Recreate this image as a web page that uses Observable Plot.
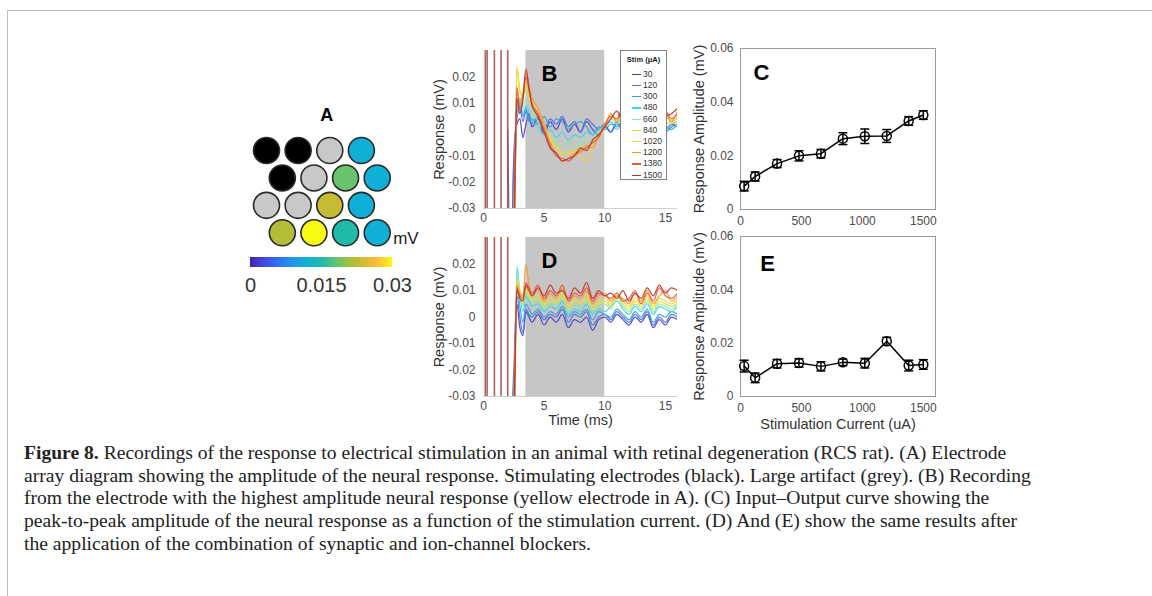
<!DOCTYPE html>
<html><head><meta charset="utf-8">
<script src="https://cdn.jsdelivr.net/npm/d3@7"></script>
<script src="https://cdn.jsdelivr.net/npm/@observablehq/plot@0.6"></script>
<style>
body{margin:0;background:#fff;}
#fig{position:relative;width:1152px;height:596px;overflow:hidden;font-family:"Liberation Sans",Arial,sans-serif;background:#fff;}
#border{position:absolute;left:7px;top:10px;right:-4px;bottom:-4px;border-top:1.5px solid #bdbdbd;border-left:1.5px solid #bdbdbd;}
.pos{position:absolute;}
#cbarwrap line{display:none;}
g[aria-label="y-axis label"] text, g[aria-label="x-axis label"] text{font-size:14.5px;fill:#333;}
#stimlegend{position:absolute;left:620px;top:50px;width:47px;height:130px;border:1px solid #808080;background:#fff;box-sizing:border-box;}
#stimlegend .ttl{position:absolute;left:0;width:100%;top:4px;text-align:center;font-weight:bold;font-size:7.5px;color:#222;}
#stimlegend .row{position:absolute;left:0;width:100%;height:10px;font-size:8.5px;color:#333;line-height:10px;}
#stimlegend .sw{position:absolute;left:11px;top:5px;width:9px;height:1.3px;}
#stimlegend .lb{position:absolute;left:22px;top:0;}
#caption{position:absolute;left:24px;top:442px;font-family:"Liberation Serif",serif;font-size:19.6px;line-height:22.7px;color:#222;white-space:nowrap;}
</style></head>
<body><div id="fig"><div id="border"></div></div>
<script>
// ---------- Panel A: electrode array ----------
const elecRow   = [1,1,1,1, 2,2,2,2, 3,3,3,3, 4,4,4,4];
const elecCol   = [0,1,2,3, 0.5,1.5,2.5,3.5, 0,1,2,3, 0.5,1.5,2.5,3.5];
const elecState = ["stim","stim","artifact","resp", "stim","artifact","resp","resp",
                   "artifact","artifact","resp","resp", "resp","resp","resp","resp"];
const elecAmp   = [null,null,null,0.012, null,null,0.0186,0.012, null,null,0.023,0.012, 0.022,0.030,0.015,0.012];
const colorbarTicks = [0, 0.015, 0.03];
const parula = ["#3e26a8","#4749e6","#2e72f5","#2296e6","#10b0d6","#1fbaa8","#5ac47a","#a3bf3a","#d7ba30","#fcbf3a","#f9fb14"];

// ---------- Panels B & D: traces ----------
const stimLevels = [30,120,300,480,660,840,1020,1200,1380,1500];
const stimColors = ["#4a3cc8","#4a6ee0","#35a0dc","#3fd4ea","#8ee6a8","#cfe445","#f7d23a","#f59a2a","#e8573a","#c0302c"];
const stimPulseTimes = [0.15, 0.3, 0.9, 1.45, 2.0];
const analysisWindow = [{start:3.5, end:10}];
const timeMs = [2.0,2.25,2.5,2.75,3.0,3.25,3.5,3.75,4.0,4.5,5.0,5.5,6.0,6.5,7.0,7.5,8.0,8.5,9.0,9.5,10.0,10.5,11.0,11.5,12.0,12.5,13.0,13.5,14.0,14.5,15.0,15.5,16.0];
// responses in microvolts
const traceB = {
  30:   [0,-60,-12,2,4,-3,2,6,1,4,-2,3,0,4,-1,2,-1,3,0,-2,1,-1,3,0,2,-1,1,3,-1,2,0,2,1],
  120:  [-60,-60,-10,4,8,3,7,4,2,5,0,4,2,5,1,3,-1,4,2,0,2,-1,2,0,3,1,-1,2,0,3,-1,1,2],
  300:  [-60,-60,-40,6,10,5,8,3,4,2,5,1,4,3,0,2,3,1,-2,1,0,2,1,3,0,2,4,1,-1,3,1,0,2],
  480:  [-60,-60,-45,8,12,6,9,7,3,1,-2,0,-3,-1,-4,-2,-3,-1,-2,0,1,3,0,2,1,4,2,0,3,1,-1,2,3],
  660:  [-60,-60,-50,14,10,8,12,10,7,3,0,-3,-5,-6,-5,-7,-4,-5,-3,-1,1,4,2,5,1,3,5,2,0,4,2,3,1],
  840:  [-60,-60,-55,23,15,12,16,12,10,6,1,-4,-7,-9,-8,-9,-6,-8,-5,-2,2,5,3,6,2,4,1,5,3,2,5,3,4],
  1020: [-60,-60,-55,24,14,13,18,14,11,7,2,-3,-6,-10,-9,-8,-10,-12,-7,-3,1,6,4,7,3,5,2,6,4,3,6,2,5],
  1200: [-60,-60,-30,15,10,14,22,16,12,8,2,-5,-9,-12,-11,-9,-9,-6,-7,-2,1,6,3,8,2,6,4,3,7,4,6,3,7],
  1380: [-60,-60,-40,16,8,12,20,15,10,6,0,-6,-10,-11,-12,-10,-8,-7,-5,-3,2,5,4,9,3,5,2,6,5,3,7,4,6],
  1500: [-60,-60,-45,12,6,11,23,16,9,5,-1,-7,-9,-12,-11,-10,-7,-8,-4,-2,1,4,7,3,6,2,5,4,8,3,5,6,8]
};
const traceD = {
  30:   [-60,-60,-30,5,-4,-7,2,0,-2,1,-3,0,-2,1,-4,-1,-2,0,-5,-1,0,-2,1,-1,-3,0,-2,1,-4,-1,-3,0,-1],
  120:  [-60,-45,-20,8,0,-6,3,1,0,2,-1,1,0,3,-2,1,0,2,-3,0,1,-1,2,0,-2,1,-1,2,-3,0,-2,1,0],
  300:  [-60,-60,-35,12,4,-2,5,3,1,3,0,2,1,4,0,2,1,3,-1,2,1,0,3,1,-1,2,0,3,-2,1,0,2,1],
  480:  [-60,-60,-50,19,8,2,8,6,4,5,2,4,3,6,1,3,2,5,1,3,2,4,6,3,1,4,2,5,1,4,3,2,4],
  660:  [-60,-60,-50,16,10,4,9,7,5,6,3,5,4,7,2,5,3,6,2,4,5,3,7,4,2,5,3,6,2,5,4,3,5],
  840:  [-60,-60,-55,14,9,5,10,8,6,7,4,6,5,8,3,6,5,7,3,5,6,4,8,5,3,6,4,7,3,6,5,4,6],
  1020: [-60,-60,-55,13,10,6,11,9,7,8,5,7,6,9,4,7,5,8,4,6,7,5,9,6,4,7,5,8,4,7,6,5,7],
  1200: [-60,-60,-35,12,9,8,20,12,8,10,6,9,7,11,6,8,7,10,5,8,9,6,8,7,5,9,6,10,5,8,10,6,8],
  1380: [-60,-60,-40,11,8,7,13,11,9,12,7,10,8,12,6,9,8,11,6,9,8,7,9,6,7,10,5,9,6,11,8,7,9],
  1500: [-60,-60,-45,10,7,6,12,10,8,11,8,12,9,10,7,11,9,13,7,10,8,9,7,10,6,9,7,11,8,12,9,11,10]
};

// ---------- Panels C & E: input-output ----------
const currentUA = [30,120,300,480,660,840,1020,1200,1380,1500];
const ampC = [0.0087,0.0123,0.0171,0.0200,0.0208,0.0264,0.0273,0.0274,0.0330,0.0352];
const errC = [0.0018,0.0017,0.0015,0.0019,0.0016,0.0022,0.0027,0.0024,0.0016,0.0016];
const ampE = [0.0114,0.0070,0.0123,0.0126,0.0113,0.0128,0.0125,0.0207,0.0116,0.0120];
const errE = [0.0022,0.0018,0.0016,0.0016,0.0017,0.0012,0.0018,0.0015,0.0020,0.0018];

const captionLines = [
  ["Figure 8.", " Recordings of the response to electrical stimulation in an animal with retinal degeneration (RCS rat). (A) Electrode"],
  ["", "array diagram showing the amplitude of the neural response. Stimulating electrodes (black). Large artifact (grey). (B) Recording"],
  ["", "from the electrode with the highest amplitude neural response (yellow electrode in A). (C) Input\u2013Output curve showing the"],
  ["", "peak-to-peak amplitude of the neural response as a function of the stimulation current. (D) And (E) show the same results after"],
  ["", "the application of the combination of synaptic and ion-channel blockers."]
];

// ================= build =================
const fig = document.getElementById("fig");
function place(node, left, top, id) {
  const wrap = document.createElement("div");
  wrap.className = "pos";
  if (id) wrap.id = id;
  wrap.style.left = left + "px";
  wrap.style.top = top + "px";
  wrap.appendChild(node);
  fig.appendChild(wrap);
  return wrap;
}
const fmt = d => String(+d.toFixed(2));
const parulaInterp = d3.piecewise(d3.interpolateRgb, parula);
const baseStyle = {fontFamily: "'Liberation Sans', Arial, sans-serif", fontSize: "12px", color: "#4d4d4d", background: "transparent", overflow: "visible"};
const letterOpts = {fontSize: 22, fontWeight: "bold", fill: "#000", textAnchor: "middle", lineAnchor: "middle"};

// Panel A
const electrodes = elecRow.map((r, i) => ({row: r, col: elecCol[i], state: elecState[i], amp: elecAmp[i]}));
const plotA = Plot.plot({
  width: 220, height: 170, marginLeft: 66, marginRight: 43.3, marginTop: 50, marginBottom: 37.7,
  style: baseStyle,
  x: {domain: [0, 3.5], axis: null},
  y: {domain: [1, 4], axis: null, reverse: true},
  color: {type: "linear", domain: [0, 0.03], interpolate: parulaInterp},
  marks: [
    Plot.dot(electrodes.filter(d => d.state === "resp"), {x: "col", y: "row", r: 13, fill: "amp", stroke: "#2a2a2a", strokeWidth: 1.6}),
    Plot.dot(electrodes.filter(d => d.state === "stim"), {x: "col", y: "row", r: 13, fill: "#000", stroke: "#2a2a2a", strokeWidth: 1.6}),
    Plot.dot(electrodes.filter(d => d.state === "artifact"), {x: "col", y: "row", r: 13, fill: "#c8c8c8", stroke: "#2a2a2a", strokeWidth: 1.6}),
    Plot.text(["A"], {text: d => d, frameAnchor: "top", dx: 5, dy: -35, ...letterOpts, fontSize: 18}),
    Plot.text(["mV"], {text: d => d, frameAnchor: "bottom-right", dx: 16, dy: 6, textAnchor: "start", lineAnchor: "middle", fontSize: 17, fill: "#222"})
  ]
});
place(plotA, 200, 100);

const cbar = Plot.legend({
  color: {type: "linear", domain: [0, 0.03], interpolate: parulaInterp},
  width: 182, height: 40, marginLeft: 20, marginRight: 20, marginTop: 0, marginBottom: 30,
  ticks: colorbarTicks, tickSize: 8, tickFormat: d => d === 0 ? "0" : String(d),
  style: {fontSize: "20px", fontFamily: "'Liberation Sans', Arial, sans-serif", color: "#333", overflow: "visible"}
});
place(cbar, 230, 257, "cbarwrap");

// Panels B & D
function traceRows(obj) {
  const rows = [];
  for (const s of stimLevels) obj[s].forEach((v, i) => rows.push({stim: s, t: timeMs[i], uv: v}));
  return rows;
}
function tracePlot(obj, letter, opts) {
  return Plot.plot({
    width: 260, height: opts.height, marginLeft: 63, marginRight: 3, marginTop: 10, marginBottom: opts.marginBottom,
    style: baseStyle,
    x: {domain: [0, 16], ticks: [0, 5, 10, 15], tickSize: 0, tickPadding: 5, tickFormat: d => String(d),
        label: opts.xlabel, labelAnchor: "center", labelOffset: 28, labelArrow: "none"},
    y: {domain: [-0.03, 0.03], ticks: [-0.03, -0.02, -0.01, 0, 0.01, 0.02], tickSize: 0, tickPadding: 8,
        tickFormat: fmt, label: "Response (mV)", labelAnchor: "center", labelOffset: 50, labelArrow: "none"},
    color: {type: "ordinal", domain: stimLevels, range: stimColors},
    marks: [
      Plot.ruleY([-0.03], {stroke: "#d0d0d0"}),
      Plot.rect(analysisWindow, {x1: "start", x2: "end", fill: "#c6c6c6"}),
      Plot.line(traceRows(obj), {x: "t", y: d => d.uv / 1000, z: "stim", stroke: "stim", curve: "monotone-x",
        clip: true, strokeWidth: 1.25, strokeOpacity: 0.9}),
      Plot.ruleX(stimPulseTimes, {stroke: "#a5524e", strokeWidth: 1.6, strokeOpacity: 0.9}),
      Plot.text([letter], {text: d => d, frameAnchor: "top-left", dx: 66, dy: 23, ...letterOpts})
    ]
  });
}
place(tracePlot(traceB, "B", {height: 190, marginBottom: 22, xlabel: null}), 420, 40);
place(tracePlot(traceD, "D", {height: 210, marginBottom: 41, xlabel: "Time (ms)"}), 420, 227);

// Stim legend (HTML)
const lg = document.createElement("div");
lg.id = "stimlegend";
const ttl = document.createElement("div");
ttl.className = "ttl"; ttl.textContent = "Stim (\u03bcA)";
lg.appendChild(ttl);
stimLevels.forEach((s, i) => {
  const row = document.createElement("div");
  row.className = "row";
  row.style.top = (17.7 + 11.2 * i) + "px";
  const sw = document.createElement("div");
  sw.className = "sw"; sw.style.background = stimColors[i];
  const lb = document.createElement("div");
  lb.className = "lb"; lb.textContent = s;
  row.appendChild(sw); row.appendChild(lb);
  lg.appendChild(row);
});
fig.appendChild(lg);

// Panels C & E
const capSymbol = {draw(ctx) { ctx.moveTo(-4.5, 0); ctx.lineTo(4.5, 0); }};
function ioPlot(amp, err, letter, opts) {
  const data = currentUA.map((c, i) => ({c, a: amp[i], e: err[i]}));
  return Plot.plot({
    width: 270, height: opts.height, marginLeft: 60, marginRight: 15, marginTop: opts.marginTop, marginBottom: opts.marginBottom,
    style: baseStyle,
    x: {domain: [0, 1600], ticks: [0, 500, 1000, 1500], tickSize: 0, tickPadding: 7, tickFormat: d => String(d),
        label: opts.xlabel, labelAnchor: "center", labelOffset: 32, labelArrow: "none"},
    y: {domain: [0, 0.06], ticks: [0, 0.02, 0.04, 0.06], tickSize: 0, tickPadding: 7, tickFormat: fmt,
        label: "Response Amplitude (mV)", labelAnchor: "center", labelOffset: 47, labelArrow: "none"},
    marks: [
      Plot.frame({stroke: "#9a9a9a"}),
      Plot.line(data, {x: "c", y: "a", stroke: "#000", strokeWidth: 1.5}),
      Plot.ruleX(data, {x: "c", y1: d => d.a - d.e, y2: d => d.a + d.e, stroke: "#000", strokeWidth: 1.5}),
      Plot.dot(data, {x: "c", y: d => d.a - d.e, symbol: capSymbol, stroke: "#000", strokeWidth: 1.5}),
      Plot.dot(data, {x: "c", y: d => d.a + d.e, symbol: capSymbol, stroke: "#000", strokeWidth: 1.5}),
      Plot.dot(data, {x: "c", y: "a", r: 4.5, stroke: "#000", fill: "none", strokeWidth: 1.5}),
      Plot.text([letter], {text: d => d, frameAnchor: "top-left", dx: opts.ldx, dy: opts.ldy, ...letterOpts})
    ]
  });
}
place(ioPlot(ampC, errC, "C", {height: 190, marginTop: 8, marginBottom: 21, xlabel: null, ldx: 21, ldy: 24}), 680, 40);
place(ioPlot(ampE, errE, "E", {height: 210, marginTop: 10, marginBottom: 40, xlabel: "Stimulation Current (uA)", ldx: 27, ldy: 27}), 680, 226);

// Caption
const cap = document.createElement("div");
cap.id = "caption";
captionLines.forEach(([bold, rest]) => {
  const line = document.createElement("div");
  if (bold) { const b = document.createElement("b"); b.textContent = bold; line.appendChild(b); }
  line.appendChild(document.createTextNode(rest));
  cap.appendChild(line);
});
fig.appendChild(cap);
</script>
</body></html>
